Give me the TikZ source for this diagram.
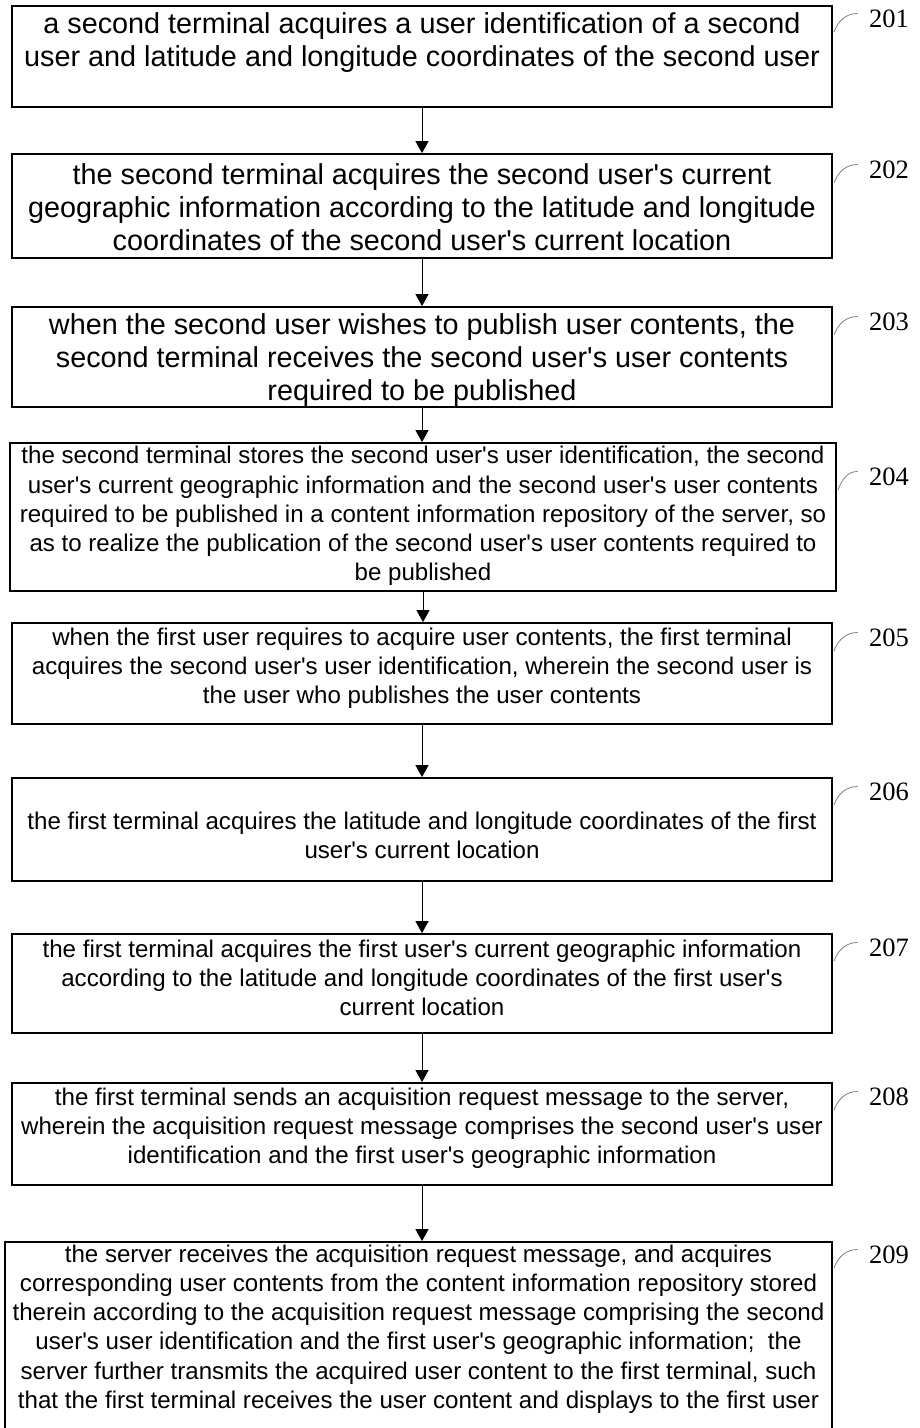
\documentclass[tikz,border=0pt]{standalone}
\usepackage{fontspec}
\setmainfont{Liberation Sans}[Ligatures=TeXOff]
\newfontfamily\numfont{Liberation Serif}
\usetikzlibrary{arrows.meta}

\begin{document}
\begin{tikzpicture}[x=1pt,y=-1pt,->,>={Triangle[width=13pt,length=12pt]},line width=1pt,
  box node/.style={rectangle,draw,line width=1.8pt,minimum width=820pt,inner sep=0pt},
  big txt/.style={align=center,inner sep=0pt,font=\fontsize{28.8}{33.3}\selectfont},
  small txt/.style={align=center,inner sep=0pt,font=\fontsize{24.1}{29.2}\selectfont},
  num node/.style={inner xsep=11pt,inner ysep=0pt,font=\numfont\fontsize{26.5}{30}\selectfont},
  lead/.style={-,draw=gray,line width=0.8pt}]
\useasboundingbox (0,0) rectangle (919,1428);

% boxes
\node[box node,minimum height=101pt] (b1) at (422,56.5) {};
\node[box node,minimum height=104pt] (b2) at (422,206) {};
\node[box node,minimum height=100pt] (b3) at (422,357) {};
\node[box node,minimum width=826pt,minimum height=148pt] (b4) at (423,517) {};
\node[box node,minimum height=101pt] (b5) at (422,673.5) {};
\node[box node,minimum height=103pt] (b6) at (422,829.5) {};
\node[box node,minimum height=99pt] (b7) at (422,983.5) {};
\node[box node,minimum height=102pt] (b8) at (422,1134) {};
\node[box node,minimum width=827pt,minimum height=193pt] (b9) at (418.5,1338.5) {};

% texts
\node[big txt] (t1) at (422,42.5) {a second terminal acquires a user identification of a second\\user and latitude and longitude coordinates of the second user};
\node[big txt] (t2) at (422,207) {the second terminal acquires the second user's current\\geographic information according to the latitude and longitude\\coordinates of the second user's current location};
\node[big txt] (t3) at (422,360) {when the second user wishes to publish user contents, the\\second terminal receives the second user's user contents\\required to be published};
\node[small txt] (t4) at (423,516) {the second terminal stores the second user's user identification, the second\\user's current geographic information and the second user's user contents\\required to be published in a content information repository of the server, so\\as to realize the publication of the second user's user contents required to\\be published};
\node[small txt] (t5) at (422,668) {when the first user requires to acquire user contents, the first terminal\\acquires the second user's user identification, wherein the second user is\\the user who publishes the user contents};
\node[small txt] (t6) at (422,835.5) {the first terminal acquires the latitude and longitude coordinates of the first\\user's current location};
\node[small txt] (t7) at (422,978) {the first terminal acquires the first user's current geographic information\\according to the latitude and longitude coordinates of the first user's\\current location};
\node[small txt] (t8) at (422,1128) {the first terminal sends an acquisition request message to the server,\\wherein the acquisition request message comprises the second user's user\\identification and the first user's geographic information};
\node[small txt] (t9) at (418.5,1329) {the server receives the acquisition request message, and acquires\\corresponding user contents from the content information repository stored\\therein according to the acquisition request message comprising the second\\user's user identification and the first user's geographic information;\ \ the\\server further transmits the acquired user content to the first terminal, such\\that the first terminal receives the user content and displays to the first user};

% step numbers
\node[num node] (l1) at (889,19) {201};
\node[num node] (l2) at (889,170) {202};
\node[num node] (l3) at (889,322) {203};
\node[num node] (l4) at (889,477) {204};
\node[num node] (l5) at (889,638) {205};
\node[num node] (l6) at (889,792) {206};
\node[num node] (l7) at (889,948) {207};
\node[num node] (l8) at (889,1097) {208};
\node[num node] (l9) at (889,1255) {209};
\coordinate (c1) at (834,32);
\coordinate (c2) at (834,183);
\coordinate (c3) at (834,335);
\coordinate (c4) at (838,490);
\coordinate (c5) at (834,651);
\coordinate (c6) at (834,805);
\coordinate (c7) at (834,961);
\coordinate (c8) at (834,1110);
\coordinate (c9) at (834,1268);
\draw[lead] (c1) to[out=70,in=180] (l1.170);
\draw[lead] (c2) to[out=70,in=180] (l2.170);
\draw[lead] (c3) to[out=70,in=180] (l3.170);
\draw[lead] (c4) to[out=70,in=180] (l4.170);
\draw[lead] (c5) to[out=70,in=180] (l5.170);
\draw[lead] (c6) to[out=70,in=180] (l6.170);
\draw[lead] (c7) to[out=70,in=180] (l7.170);
\draw[lead] (c8) to[out=70,in=180] (l8.170);
\draw[lead] (c9) to[out=70,in=180] (l9.170);

% arrows
\draw (b1.south) -- (b1.south |- b2.north);
\draw (b2.south) -- (b2.south |- b3.north);
\draw (b3.south) -- (b3.south |- b4.north);
\draw (b4.south) -- (b4.south |- b5.north);
\draw (b5.south) -- (b5.south |- b6.north);
\draw (b6.south) -- (b6.south |- b7.north);
\draw (b7.south) -- (b7.south |- b8.north);
\draw (b8.south) -- (b8.south |- b9.north);
\end{tikzpicture}
\end{document}
